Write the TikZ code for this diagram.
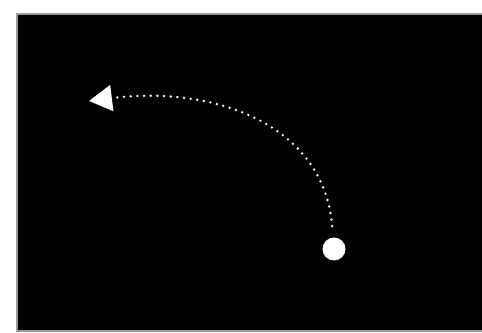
\documentclass[tikz,border=0pt]{standalone}
\usepackage{xcolor}
\usepackage{tikz}
\usetikzlibrary{arrows.meta}
\definecolor{framegrey}{HTML}{9A9A9A}

\begin{document}
\begin{tikzpicture}[
  x=0.02cm, y=-0.02cm,
  screen/.style={fill=black, draw=framegrey, line width=1pt},
  marker/.style={
    circle, fill=white, draw=none,
    minimum size=0.46cm, inner sep=0pt,
  },
  trail/.style={
    white, line width=1.5pt, line cap=round,
    dash pattern=on 0pt off 3.8pt,
    -{Triangle[length=0.46cm, width=0.52cm, fill=white]},
  },
]
\useasboundingbox (0,0) rectangle (482,333);
\fill[white] (0,0) rectangle (482,333);
\draw[screen] (17,14) rectangle (483,331);

\node[marker] (dot) at (334,249) {};
\coordinate (tip) at (89,101);

% dotted path back to the left
\draw[trail, shorten <=0.22cm] (dot) .. controls (324,125) and (215,85) .. (tip);

\end{tikzpicture}
\end{document}
